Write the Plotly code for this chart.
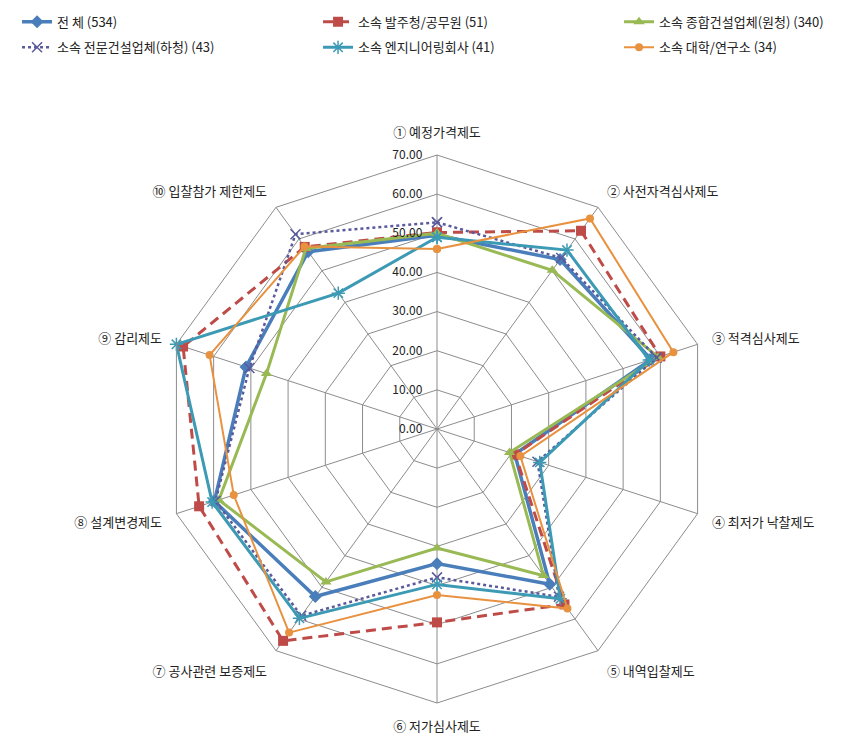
import plotly.graph_objects as go

categories = ["① 예정가격제도", "② 사전자격심사제도", "③ 적격심사제도", "④ 최저가 낙찰제도",
              "⑤ 내역입찰제도", "⑥ 저가심사제도", "⑦ 공사관련 보증제도", "⑧ 설계변경제도",
              "⑨ 감리제도", "⑩ 입찰참가 제한제도"]

series_names = ["전 체 (534)", "소속 발주청/공무원 (51)", "소속 종합건설업체(원청) (340)",
                "소속 전문건설업체(하청) (43)", "소속 엔지니어링회사 (41)", "소속 대학/연구소 (34)"]

total = [49.5, 53.5, 57.5, 20.9, 49.0, 34.4, 52.9, 59.8, 51.3, 56.0]
client = [50.2, 62.6, 60.0, 21.0, 55.4, 49.4, 66.9, 63.9, 68.2, 57.5]
general = [50.0, 50.1, 59.4, 19.5, 46.3, 30.4, 48.3, 58.6, 45.8, 57.0]
special = [52.8, 54.0, 59.0, 27.0, 53.0, 37.9, 59.0, 59.5, 50.4, 61.5]
engineering = [49.0, 56.5, 57.0, 27.6, 53.6, 39.7, 59.8, 60.4, 70.0, 42.9]
university = [46.0, 66.5, 63.5, 22.4, 56.7, 42.4, 64.3, 54.6, 61.1, 57.6]

radial_ticks = [0, 10, 20, 30, 40, 50, 60, 70]

FONT = "Noto Sans CJK KR"

styles = [
    dict(color="#4A7EBB", width=3.5, dash="solid", symbol="diamond", msize=10, mline=0, legend="legend", lw=256),
    dict(color="#BE4B48", width=3, dash="10px,6px", symbol="square", msize=10, mline=0, legend="legend", lw=256),
    dict(color="#98B954", width=3, dash="solid", symbol="triangle-up", msize=10, mline=0, legend="legend", lw=185),
    dict(color="#5A5A9C", width=2.5, dash="dot", symbol="x-thin-open", msize=10, mline=1.5, legend="legend2", lw=256),
    dict(color="#3C9AB4", width=3, dash="solid", symbol="asterisk-open", msize=11, mline=1.5, legend="legend2", lw=256),
    dict(color="#E8913F", width=2, dash="solid", symbol="circle", msize=8, mline=0, legend="legend2", lw=150),
]

data = [total, client, general, special, engineering, university]

fig = go.Figure()
for name, vals, st in zip(series_names, data, styles):
    fig.add_trace(go.Scatterpolar(
        r=vals + [vals[0]],
        theta=categories + [categories[0]],
        mode="lines+markers",
        name=name,
        line=dict(color=st["color"], width=st["width"], dash=st["dash"]),
        marker=dict(symbol=st["symbol"], size=st["msize"], color=st["color"],
                    line=dict(color=st["color"], width=st["mline"])),
        legend=st["legend"],
        legendwidth=st["lw"],
    ))

GRID = "#8C8C8C"
fig.update_layout(
    width=852, height=752,
    margin=dict(l=0, r=0, t=0, b=0),
    paper_bgcolor="white",
    plot_bgcolor="white",
    font=dict(family=FONT, size=13, color="#222222"),
    polar=dict(
        domain=dict(x=[163 / 852, 711 / 852], y=[49 / 752, 597 / 752]),
        bgcolor="white",
        gridshape="linear",
        angularaxis=dict(
            type="category",
            categoryorder="array",
            categoryarray=categories,
            direction="clockwise",
            rotation=90,
            showline=True,
            linecolor=GRID,
            linewidth=1,
            gridcolor=GRID,
            gridwidth=1,
            ticks="outside",
            ticklen=12,
            tickcolor="rgba(0,0,0,0)",
            tickfont=dict(family=FONT, size=13, color="#222222"),
        ),
        radialaxis=dict(
            range=[0, 70],
            tickvals=radial_ticks,
            tickformat=".2f",
            angle=90,
            tickangle=90,
            side="counterclockwise",
            showline=False,
            gridcolor=GRID,
            gridwidth=1,
            ticks="outside",
            ticklen=10,
            tickcolor="rgba(0,0,0,0)",
            tickfont=dict(family=FONT, size=12, color="#222222"),
        ),
    ),
    legend=dict(orientation="h", x=0.02, xanchor="left", y=0.991, yanchor="top",
                font=dict(family=FONT, size=13, color="#222222"), bgcolor="rgba(0,0,0,0)"),
    legend2=dict(orientation="h", x=0.02, xanchor="left", y=0.957, yanchor="top",
                 font=dict(family=FONT, size=13, color="#222222"), bgcolor="rgba(0,0,0,0)"),
    showlegend=True,
)

fig.write_html("out.html")
